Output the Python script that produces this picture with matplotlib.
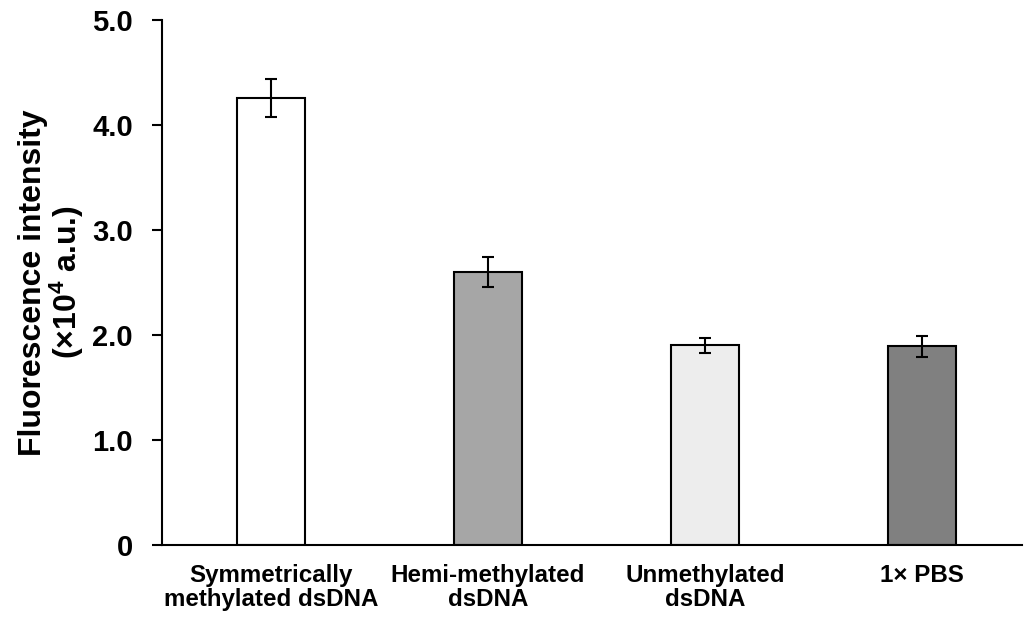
import numpy as np
import matplotlib
matplotlib.use("Agg")
import matplotlib.pyplot as plt

plt.rcParams['font.family'] = ['Liberation Sans', 'DejaVu Sans']
plt.rcParams['font.weight'] = 'bold'
plt.rcParams['mathtext.fontset'] = 'custom'
plt.rcParams['mathtext.rm'] = 'Liberation Sans:bold'
plt.rcParams['mathtext.bf'] = 'Liberation Sans:bold'
plt.rcParams['mathtext.it'] = 'Liberation Sans:bold'
plt.rcParams['mathtext.default'] = 'bf'

categories = ["Symmetrically\nmethylated dsDNA", "Hemi-methylated\ndsDNA",
              "Unmethylated\ndsDNA", "1\u00d7 PBS"]
values = [4.26, 2.60, 1.90, 1.895]
errors = [0.18, 0.145, 0.075, 0.10]
colors = ["#ffffff", "#a6a6a6", "#ededed", "#808080"]
yticks = [0, 1.0, 2.0, 3.0, 4.0, 5.0]
ytick_labels = ["0", "1.0", "2.0", "3.0", "4.0", "5.0"]


def bar_plot():
    fig = plt.figure(figsize=(10.25, 6.21), dpi=100)
    ax = fig.add_axes([0.158, 0.1224, 0.839, 0.8454])

    x = np.arange(len(categories))
    ax.bar(x, values, width=0.316, color=colors, edgecolor="black", linewidth=1.5,
           yerr=errors, error_kw=dict(ecolor="black", elinewidth=1.5, capsize=4, capthick=1.5),
           zorder=2)

    ax.set_xlim(-0.502, 3.46)
    ax.set_ylim(0, 5.0)
    ax.set_yticks(yticks)
    ax.set_yticklabels(ytick_labels, fontsize=21, fontweight="bold")
    ax.set_xticks(x)
    ax.set_xticklabels(categories, fontsize=17.4, fontweight="bold", linespacing=1.05)
    ax.tick_params(axis="x", length=0, pad=14)
    ax.tick_params(axis="y", length=7, width=1.5, direction="out", pad=14)

    for side in ["top", "right"]:
        ax.spines[side].set_visible(False)
    for side in ["left", "bottom"]:
        ax.spines[side].set_linewidth(1.5)

    ax.set_ylabel("Fluorescence intensity\n(\u00d710$^{4}$ a.u.)", fontsize=23,
                  fontweight="bold", linespacing=1.0, labelpad=4)

    fig.savefig("out.png", dpi=100)


if __name__ == '__main__':
    bar_plot()
